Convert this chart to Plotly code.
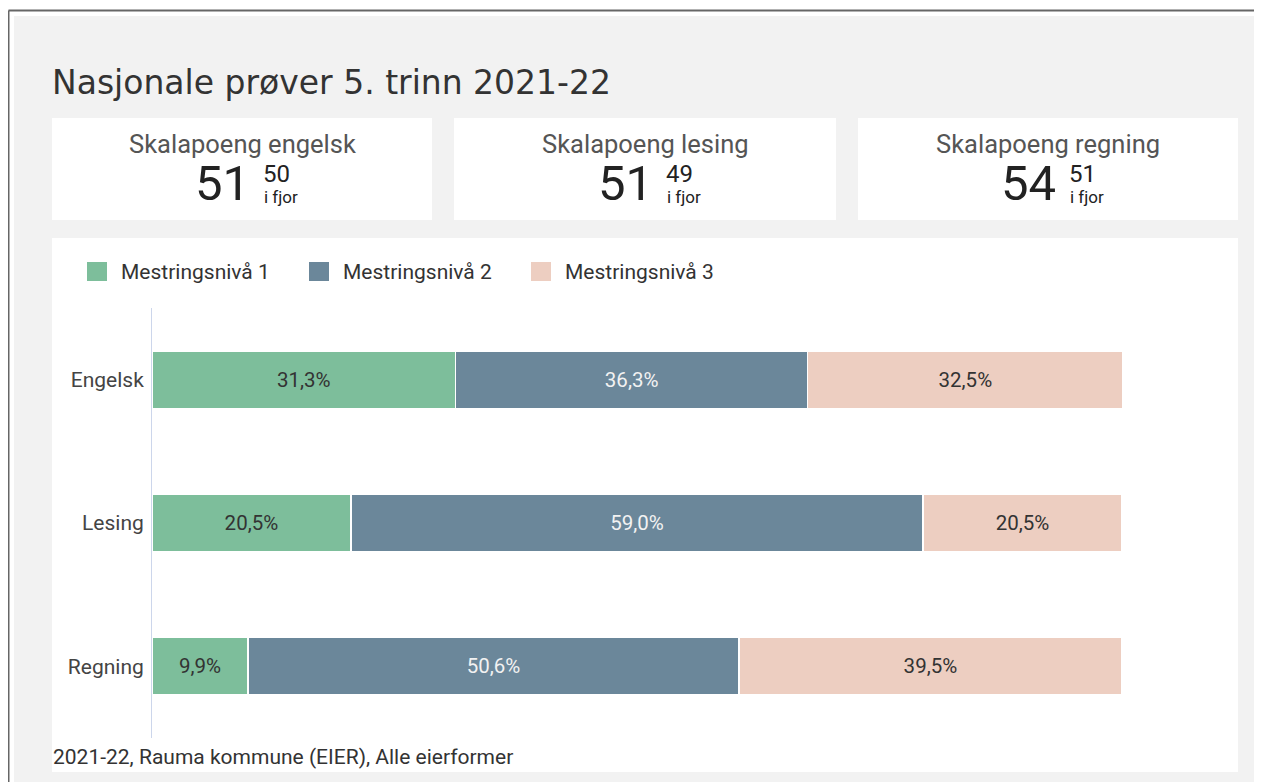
import plotly.graph_objects as go

# The page body adds an 8px margin; the figure is sized/offset to compensate.
OFF = 8
W, H = 1262 - OFF, 782 - OFF

# ---------------- data ----------------
categories = ["Engelsk", "Lesing", "Regning"]
level_names = ["Mestringsnivå 1", "Mestringsnivå 2", "Mestringsnivå 3"]
level1 = [31.3, 20.5, 9.9]
level2 = [36.3, 59.0, 50.6]
level3 = [32.5, 20.5, 39.5]

kpi_labels = ["Skalapoeng engelsk", "Skalapoeng lesing", "Skalapoeng regning"]
kpi_values = [51, 51, 54]
kpi_prev = [50, 49, 51]
prev_label = "i fjor"

title_text = "Nasjonale prøver 5. trinn 2021-22"
footer_text = "2021-22, Rauma kommune (EIER), Alle eierformer"

# ---------------- styles ----------------
colors = ["#7dbe9b", "#6b879a", "#edcec1"]
text_colors = ["#333333", "#f2f2f2", "#333333"]
FONT = "Roboto"


def px(x):
    return (x - OFF) / W


def py(y):
    return 1 - (y - OFF) / H


def fmt(v):
    return f"{v:.1f}".replace(".", ",") + "%"


fig = go.Figure()
for name, vals, col, tcol in zip(level_names, [level1, level2, level3], colors, text_colors):
    fig.add_trace(go.Bar(
        y=categories, x=vals, name=name, orientation="h",
        marker=dict(color=col, line=dict(color="white", width=1.5)),
        text=[fmt(v) for v in vals], textposition="inside",
        insidetextanchor="middle", textangle=0,
        textfont=dict(family=FONT, size=20.5, color=tcol),
        hoverinfo="skip", showlegend=False,
    ))

shapes = []
# page frame
shapes.append(dict(type="rect", xref="paper", yref="paper", x0=px(14), x1=1.01, y0=-0.01, y1=py(16),
                   fillcolor="#f2f2f2", line=dict(width=0), layer="below"))
shapes.append(dict(type="line", xref="paper", yref="paper", x0=px(8.5), x1=px(8.5), y0=-0.01, y1=py(10.5),
                   line=dict(color="#666666", width=2), layer="below"))
shapes.append(dict(type="line", xref="paper", yref="paper", x0=px(8.5), x1=1.01, y0=py(10.5), y1=py(10.5),
                   line=dict(color="#666666", width=2), layer="below"))
# KPI cards
card_x = [(52, 432), (454, 836), (858, 1238)]
for x0, x1 in card_x:
    shapes.append(dict(type="rect", xref="paper", yref="paper", x0=px(x0), x1=px(x1), y0=py(220), y1=py(118),
                       fillcolor="white", line=dict(width=0), layer="below"))
# chart panel
shapes.append(dict(type="rect", xref="paper", yref="paper", x0=px(52), x1=px(1238), y0=py(772), y1=py(238),
                   fillcolor="white", line=dict(width=0), layer="below"))

annotations = []
annotations.append(dict(text=title_text, x=px(50), y=py(82), xref="paper", yref="paper",
                        xanchor="left", yanchor="middle", showarrow=False,
                        font=dict(family="DejaVu Sans", size=33, color="#333333")))
for (x0, x1), lab, val, prev in zip(card_x, kpi_labels, kpi_values, kpi_prev):
    cx = (x0 + x1) / 2
    annotations.append(dict(text=lab, x=px(cx), y=py(144), xref="paper", yref="paper",
                            xanchor="center", yanchor="middle", showarrow=False,
                            font=dict(family=FONT, size=25.5, color="#555555")))
    annotations.append(dict(text=str(val), x=px(cx + 10), y=py(183), xref="paper", yref="paper",
                            xanchor="right", yanchor="middle", showarrow=False,
                            font=dict(family=FONT, size=49, color="#222222")))
    annotations.append(dict(text=str(prev), x=px(cx + 19), y=py(174), xref="paper", yref="paper",
                            xanchor="left", yanchor="middle", showarrow=False,
                            font=dict(family=FONT, size=24, color="#222222")))
    annotations.append(dict(text=prev_label, x=px(cx + 20), y=py(197), xref="paper", yref="paper",
                            xanchor="left", yanchor="middle", showarrow=False,
                            font=dict(family=FONT, size=17, color="#222222")))

# legend (drawn to match the reference's large square keys)
leg_x = [87, 309, 531]
for lx, name, col in zip(leg_x, level_names, colors):
    shapes.append(dict(type="rect", xref="paper", yref="paper", x0=px(lx), x1=px(lx + 20),
                       y0=py(281), y1=py(262), fillcolor=col, line=dict(width=0)))
    annotations.append(dict(text=name, x=px(lx + 32), y=py(272), xref="paper", yref="paper",
                            xanchor="left", yanchor="middle", showarrow=False,
                            font=dict(family=FONT, size=21, color="#333333")))

annotations.append(dict(text=footer_text, x=px(51), y=py(757), xref="paper", yref="paper",
                        xanchor="left", yanchor="middle", showarrow=False,
                        font=dict(family=FONT, size=21, color="#333333")))

fig.update_layout(
    width=W, height=H, margin=dict(l=0, r=0, t=0, b=0),
    paper_bgcolor="white", plot_bgcolor="rgba(0,0,0,0)",
    barmode="stack", bargap=0.6,
    shapes=shapes, annotations=annotations, showlegend=False,
    xaxis=dict(domain=[px(152), px(1122)], range=[0, 100], visible=False, fixedrange=True),
    yaxis=dict(domain=[py(738), py(308)], categoryorder="array", categoryarray=categories,
               autorange="reversed", showline=True, linecolor="#ccd6eb", linewidth=1,
               showgrid=False, zeroline=False, ticks="", ticklabelstandoff=3,
               tickfont=dict(family=FONT, size=21, color="#444444")),
    font=dict(family=FONT),
)

fig.write_html("out.html")
